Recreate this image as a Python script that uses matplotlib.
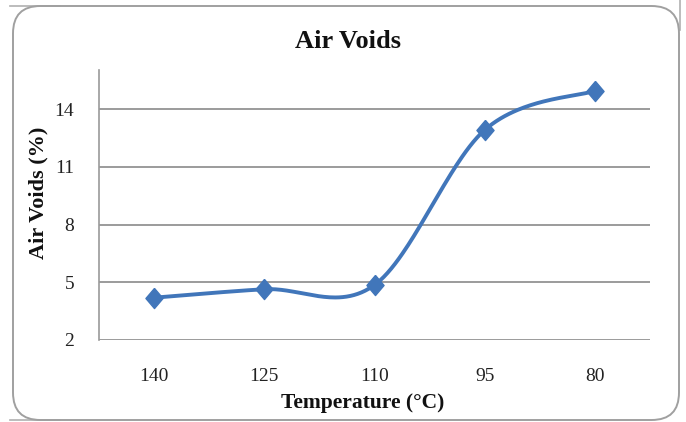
import numpy as np
import matplotlib
matplotlib.use("Agg")
import matplotlib.pyplot as plt
from matplotlib.patches import FancyBboxPatch
from matplotlib.lines import Line2D

categories = ["140", "125", "110", "95", "80"]
air_voids = [4.2, 4.64, 4.86, 12.92, 14.96]
y_ticks = [2, 5, 8, 11, 14]

plt.rcParams['font.family'] = ['Liberation Serif', 'DejaVu Serif']

W, H = 686, 422
fig = plt.figure(figsize=(W/100, H/100), dpi=100)
fig.patch.set_facecolor('white')

# rounded chart frame
frame = FancyBboxPatch((13/W, 2/H), (679-13)/W, (420-6)/H,
                       boxstyle="round,pad=0,rounding_size=0.04",
                       transform=fig.transFigure, facecolor='none',
                       edgecolor='#a0a0a0', linewidth=1.4, zorder=-1,
                       mutation_aspect=W/H)
fig.patches.append(frame)
# straight edge remnants of the screenshot crop
for (xa, xb, ya, yb) in [(10, 60, 6, 6), (10, 60, 420, 420), (680, 680, 0, 30)]:
    fig.lines.append(Line2D([xa/W, xb/W], [1-ya/H, 1-yb/H], transform=fig.transFigure,
                            color='#b0b0b0', lw=1.2, zorder=-1))

ax = fig.add_axes([99/W, (H-340)/H, (650-99)/W, (340-70)/H])
ax.set_facecolor('none')

x = np.arange(len(categories), dtype=float)
y = np.array(air_voids, dtype=float)

# Excel-style smoothed line (Catmull-Rom Bezier)
px = np.concatenate([[x[0]], x, [x[-1]]])
py = np.concatenate([[y[0]], y, [y[-1]]])
sx, sy = [], []
t = np.linspace(0, 1, 60)
for i in range(len(x) - 1):
    p0x, p1x, p2x, p3x = px[i], px[i+1], px[i+2], px[i+3]
    p0y, p1y, p2y, p3y = py[i], py[i+1], py[i+2], py[i+3]
    c1x = p1x + (p2x - p0x) / 6; c1y = p1y + (p2y - p0y) / 6
    c2x = p2x - (p3x - p1x) / 6; c2y = p2y - (p3y - p1y) / 6
    bx = (1-t)**3*p1x + 3*(1-t)**2*t*c1x + 3*(1-t)*t**2*c2x + t**3*p2x
    by = (1-t)**3*p1y + 3*(1-t)**2*t*c1y + 3*(1-t)*t**2*c2y + t**3*p2y
    sx.extend(bx); sy.extend(by)

color = '#4176BA'
ax.plot(sx, sy, color=color, lw=2.8, solid_capstyle='round', zorder=3)
diamond = [(0, 1), (0.85, 0), (0, -1), (-0.85, 0), (0, 1)]
ax.plot(x, y, linestyle='none', marker=diamond, markersize=14.5,
        color=color, markeredgecolor=color, zorder=4)

ax.set_xlim(-0.5, len(categories) - 0.5)
ax.set_ylim(2, 16.04)
ax.set_xticks(x)
ax.set_xticklabels(categories, fontsize=14)
ax.set_yticks(y_ticks)
ax.set_yticklabels([str(v) for v in y_ticks], fontsize=14)
ax.tick_params(axis='both', length=0, colors='#222222')
ax.tick_params(axis='y', pad=18)
ax.tick_params(axis='x', pad=20)

for v in y_ticks:
    ax.axhline(v, color='#8a8a8a', lw=1.2, zorder=1)

for s in ['top', 'right', 'bottom']:
    ax.spines[s].set_visible(False)
ax.spines['left'].set_color('#9a9a9a')
ax.spines['left'].set_linewidth(1.2)

fig.text(348/W, 1 - 42/H, "Air Voids", ha='center', va='center',
         fontsize=19, fontweight='bold', color='#111111')
fig.text(38.5/W, 1 - 193/H, "Air Voids (%)", ha='center', va='center',
         rotation=90, fontsize=16, fontweight='bold', color='#111111')
fig.text(363/W, 1 - 403/H, "Temperature (\u00b0C)", ha='center', va='center',
         fontsize=15.5, fontweight='bold', color='#111111')

fig.savefig("out.png", dpi=100, facecolor='white')
